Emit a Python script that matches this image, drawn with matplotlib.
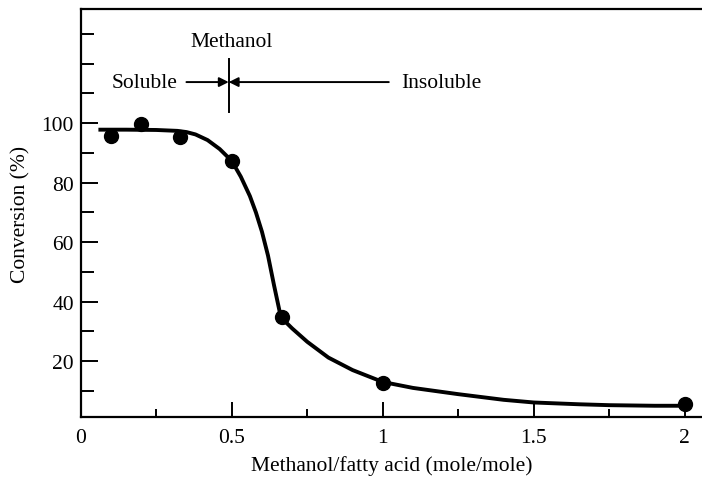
import numpy as np
import matplotlib.pyplot as plt
from matplotlib.ticker import MultipleLocator

plt.rcParams['font.family'] = ['Liberation Serif', 'DejaVu Serif']

# measured points (methanol/fatty acid ratio vs conversion %)
ratio = [0.1, 0.2, 0.33, 0.5, 0.667, 1.0, 2.0]
conversion = [95.8, 99.6, 95.3, 87.3, 34.8, 12.8, 5.5]

# fitted curve
curve_x = [0.065, 0.15, 0.25, 0.32, 0.35, 0.38, 0.42, 0.46, 0.50, 0.53, 0.56,
           0.58, 0.60, 0.62, 0.64, 0.66, 0.68, 0.70, 0.75, 0.82, 0.90, 1.00,
           1.10, 1.25, 1.40, 1.50, 1.65, 1.75, 1.90, 2.00]
curve_y = [97.8, 97.8, 97.7, 97.4, 97.0, 96.2, 94.3, 91.3, 87.3, 82.0, 75.5,
           70.0, 63.5, 55.5, 45.5, 36.0, 33.0, 31.0, 26.5, 21.2, 17.0, 13.0,
           11.0, 8.9, 7.0, 6.1, 5.5, 5.2, 5.0, 5.0]

xticks = [0, 0.5, 1, 1.5, 2]
xticklabels = ['0', '0.5', '1', '1.5', '2']
yticks = [20, 40, 60, 80, 100]

fs = 15.5

fig = plt.figure(figsize=(7.02, 4.85), dpi=100)
ax = fig.add_axes([0.115, 0.138, 0.885, 0.841])

ax.plot(curve_x, curve_y, color='black', linewidth=2.8, zorder=2)
ax.plot(ratio, conversion, 'o', color='black', markersize=10, zorder=3)

ax.set_xlim(0, 2.057)
ax.set_ylim(1.2, 138.3)

ax.spines['right'].set_visible(False)
for s in ['left', 'top', 'bottom']:
    ax.spines[s].set_linewidth(1.6)

ax.set_xticks(xticks)
ax.set_xticklabels(xticklabels)
ax.xaxis.set_minor_locator(MultipleLocator(0.25))
ax.set_yticks(yticks)
ax.set_yticks([10, 30, 50, 70, 90, 110, 120, 130], minor=True)
ax.tick_params(axis='both', which='major', direction='in', labelsize=fs,
               width=1.4, top=False, right=False)
ax.tick_params(axis='x', which='major', length=11, pad=8)
ax.tick_params(axis='y', which='major', length=12, pad=5)
ax.tick_params(axis='x', which='minor', direction='in', length=6, width=1.4)
ax.tick_params(axis='y', which='minor', direction='in', length=9, width=1.4)

ax.set_xlabel('Methanol/fatty acid (mole/mole)', fontsize=fs, labelpad=6)
ax.set_ylabel('Conversion (%)', fontsize=fs, labelpad=8)

# solubility annotation
ax.text(0.5, 127.6, 'Methanol', ha='center', va='center', fontsize=fs)
ax.text(0.32, 113.8, 'Soluble', ha='right', va='center', fontsize=fs)
ax.text(1.06, 113.8, 'Insoluble', ha='left', va='center', fontsize=fs)
ax.plot([0.49, 0.49], [103.7, 121.5], color='black', linewidth=1.4)
ax.annotate('', xy=(0.49, 113.8), xytext=(0.35, 113.8),
            arrowprops=dict(arrowstyle='-|>', color='black', lw=1.4,
                            mutation_scale=14, shrinkA=0, shrinkB=0))
ax.annotate('', xy=(0.49, 113.8), xytext=(1.02, 113.8),
            arrowprops=dict(arrowstyle='-|>', color='black', lw=1.4,
                            mutation_scale=14, shrinkA=0, shrinkB=0))

fig.savefig('out.png', dpi=100)
